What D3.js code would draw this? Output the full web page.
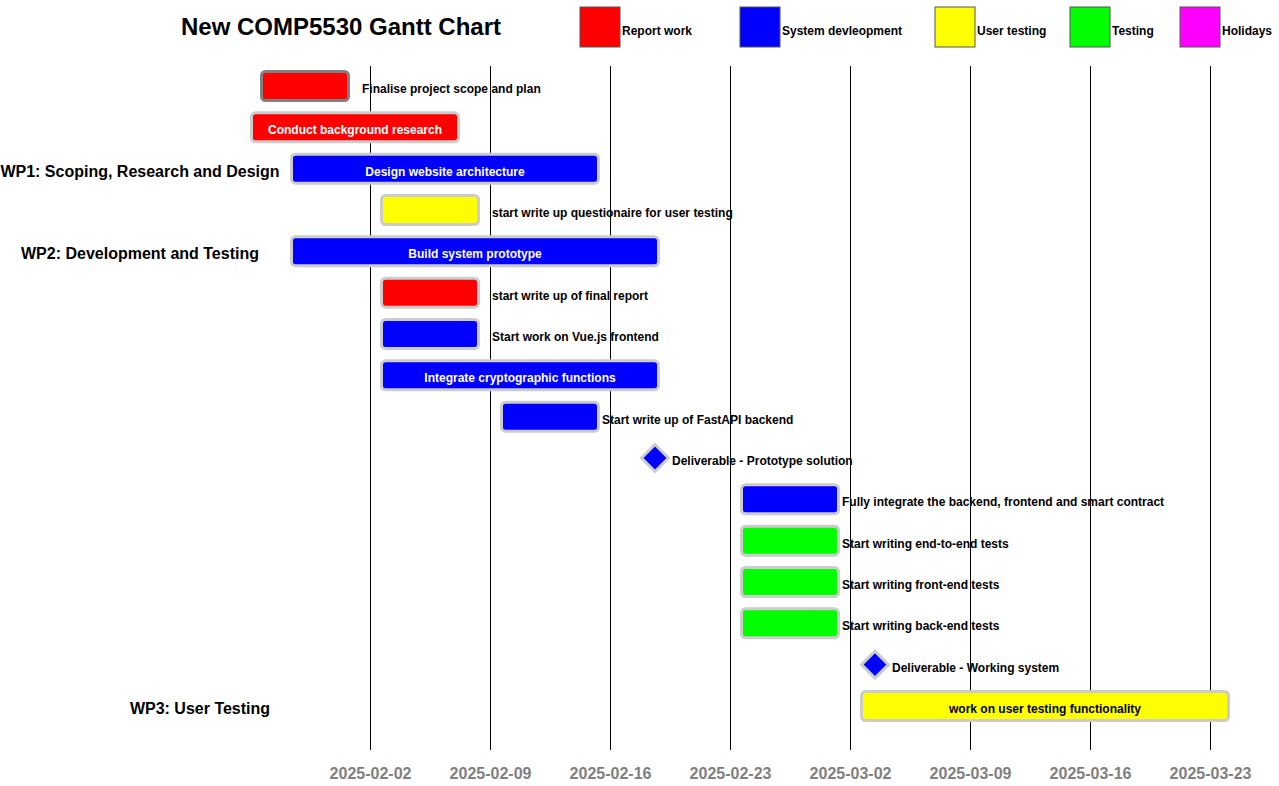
<!DOCTYPE html>
<html><head><meta charset="utf-8">
<script src="https://cdn.jsdelivr.net/npm/d3@7"></script>
<style>
body{margin:0;background:#fff}
svg{display:block;font-family:"Liberation Sans",Arial,Helvetica,sans-serif}
</style>
</head><body><svg id="chart" width="1279" height="786"></svg>
<script>
// ---------------- data ----------------
const title = "New COMP5530 Gantt Chart";
const categories = ["Report work", "System devleopment", "User testing", "Testing", "Holidays"];
const categoryColors = ["#ff0000", "#0000ff", "#ffff00", "#00ff00", "#ff00ff"];
const tickLabels = ["2025-02-02", "2025-02-09", "2025-02-16", "2025-02-23", "2025-03-02", "2025-03-09", "2025-03-16", "2025-03-23"];

const taskNames = [
  "Finalise project scope and plan",
  "Conduct background research",
  "Design website architecture",
  "start write up questionaire for user testing",
  "Build system prototype",
  "start write up of final report",
  "Start work on Vue.js frontend",
  "Integrate cryptographic functions",
  "Start write up of FastAPI backend",
  "Deliverable - Prototype solution",
  "Fully integrate the backend, frontend and smart contract",
  "Start writing end-to-end tests",
  "Start writing front-end tests",
  "Start writing back-end tests",
  "Deliverable - Working system",
  "work on user testing functionality"
];
const taskCategories = [
  "Report work", "Report work", "System devleopment", "User testing", "System devleopment",
  "Report work", "System devleopment", "System devleopment", "System devleopment", "System devleopment",
  "System devleopment", "Testing", "Testing", "Testing", "System devleopment", "User testing"
];
const taskStarts = [
  "2025-01-26T14:00", "2025-01-26T00:00", "2025-01-28T08:00", "2025-02-02T14:00", "2025-01-28T08:00",
  "2025-02-02T14:00", "2025-02-02T14:00", "2025-02-02T14:00", "2025-02-09T14:00", "2025-02-18T15:00",
  "2025-02-23T14:00", "2025-02-23T14:00", "2025-02-23T14:00", "2025-02-23T14:00", "2025-03-03T11:00",
  "2025-03-02T14:00"
];
const taskEnds = [
  "2025-01-31T20:00", "2025-02-07T06:00", "2025-02-15T10:00", "2025-02-08T10:00", "2025-02-18T22:00",
  "2025-02-08T10:00", "2025-02-08T10:00", "2025-02-18T22:00", "2025-02-15T10:00", null,
  "2025-03-01T10:00", "2025-03-01T10:00", "2025-03-01T10:00", "2025-03-01T10:00", null,
  "2025-03-24T04:00"
];
const taskLabelInside = [false, true, true, false, true, false, false, true, false, false, false, false, false, false, false, true];

const workPackages = ["WP1: Scoping, Research and Design", "WP2: Development and Testing", "WP3: User Testing"];
const workPackageTasks = ["Design website architecture", "Build system prototype", "work on user testing functionality"];

// ---------------- layout / style ----------------
const W = 1279, H = 786;
const parse = d3.utcParse("%Y-%m-%dT%H:%M");
const parseDay = d3.utcParse("%Y-%m-%d");
const legendX = [580, 740, 935, 1070, 1180];
const wpX = [140, 140, 200];
const wideGapTasks = new Set([0, 3, 5, 6]);

const tasks = taskNames.map((n, i) => ({
  name: n, cat: taskCategories[i],
  start: parse(taskStarts[i]), end: taskEnds[i] ? parse(taskEnds[i]) : null,
  inside: taskLabelInside[i], i
}));

const svg = d3.select("#chart");
const x = d3.scaleUtc()
  .domain([parseDay(tickLabels[0]), parseDay(tickLabels[tickLabels.length - 1])])
  .range([370, 1210]);
const y = d3.scalePoint().domain(taskNames).range([86, 706]);
const color = d3.scaleOrdinal().domain(categories).range(categoryColors);

// title
svg.append("text").attr("x", 341).attr("y", 35).attr("text-anchor", "middle")
  .attr("font-size", 24).attr("font-weight", "bold").attr("fill", "#000").text(title);

// legend
const lg = svg.append("g").selectAll("g").data(categories).join("g")
  .attr("transform", (d, i) => `translate(${legendX[i]},7)`);
lg.append("rect").attr("width", 40).attr("height", 40)
  .attr("fill", d => color(d)).attr("stroke", "#555").attr("stroke-width", 1);
lg.append("text").attr("x", 42).attr("y", 28).attr("font-size", 12).attr("font-weight", "bold")
  .attr("fill", "#000").text(d => d);

// axis with vertical grid lines
const tickDates = tickLabels.map(parseDay);
const axis = d3.axisBottom(x).tickValues(tickDates).tickFormat(d3.utcFormat("%Y-%m-%d"))
  .tickSize(-684).tickPadding(18);
const ax = svg.append("g").attr("transform", "translate(0,750)").call(axis);
ax.select(".domain").remove();
ax.selectAll(".tick line").attr("stroke", "#000").attr("stroke-width", 1);
ax.selectAll(".tick text").attr("fill", "#808080").attr("font-size", 16).attr("font-weight", "bold")
  .attr("font-family", '"Liberation Sans",Arial,sans-serif');

// work package labels
svg.append("g").selectAll("text").data(workPackages).join("text")
  .attr("x", (d, i) => wpX[i]).attr("y", (d, i) => y(workPackageTasks[i]) + 8)
  .attr("text-anchor", "middle").attr("font-size", 16).attr("font-weight", "bold")
  .attr("fill", "#000").text(d => d);

const BH = 29;
const bars = tasks.filter(t => t.end);
const miles = tasks.filter(t => !t.end);

svg.append("g").selectAll("rect").data(bars).join("rect")
  .attr("x", d => x(d.start) + 1.5)
  .attr("y", d => y(d.name) - BH / 2)
  .attr("width", d => x(d.end) - x(d.start) - 3)
  .attr("height", BH).attr("rx", 4)
  .attr("fill", d => color(d.cat))
  .attr("stroke", d => d.i === 0 ? "#808080" : "#cccccc")
  .attr("stroke-width", 3);

const D = 13.5;
svg.append("g").selectAll("path").data(miles).join("path")
  .attr("d", d => {
    const cx = x(d.start), cy = y(d.name);
    return `M${cx},${cy - D}L${cx + D},${cy}L${cx},${cy + D}L${cx - D},${cy}Z`;
  })
  .attr("fill", d => color(d.cat)).attr("stroke", "#cccccc").attr("stroke-width", 3);

// labels
svg.append("g").selectAll("text").data(tasks).join("text")
  .attr("x", d => {
    if (d.inside) return (x(d.start) + x(d.end)) / 2;
    if (!d.end) return x(d.start) + 17;
    return x(d.end) + (wideGapTasks.has(d.i) ? 12 : 2);
  })
  .attr("y", d => y(d.name) + 7)
  .attr("text-anchor", d => d.inside ? "middle" : "start")
  .attr("font-size", 12).attr("font-weight", "bold")
  .attr("fill", d => d.inside && d.cat !== "User testing" ? "#ffffff" : "#000000")
  .text(d => d.name);
</script>
</body></html>
